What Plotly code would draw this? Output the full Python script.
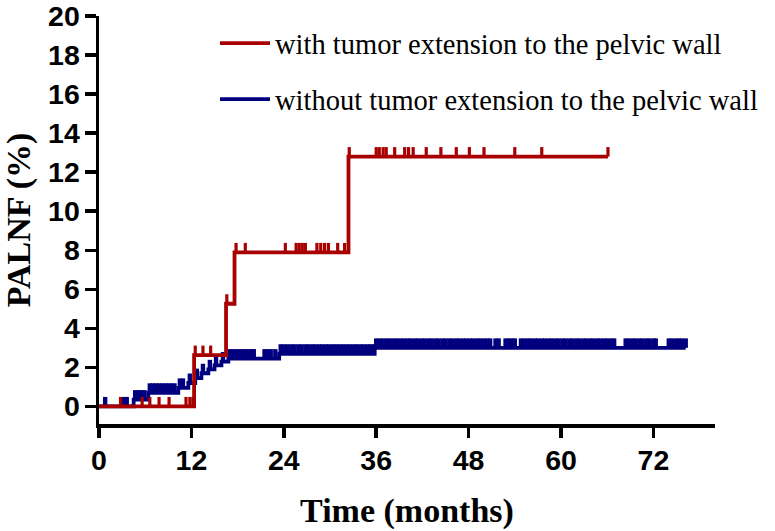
import numpy as np
import plotly.graph_objects as go

# ---------------- data ----------------
x_tick_months = [0, 12, 24, 36, 48, 60, 72]
y_tick_pct = [0, 2, 4, 6, 8, 10, 12, 14, 16, 18, 20]

red_name = "with tumor extension to the pelvic wall"
red_event_months = [12.35, 16.5, 17.6, 32.4]
red_event_pct = [2.63, 5.26, 7.89, 12.8]
red_end_month = 66.1
red_censor_months = [2.8, 5.6, 6.6, 7.8, 9.1, 11.3, 11.8, 12.2,
                     12.5, 13.5, 14.5,
                     16.6,
                     17.8, 19.0, 24.2, 25.6, 26.0, 26.4, 26.8, 28.3, 28.8, 29.3, 29.8, 31.0, 31.9,
                     32.5, 36.0, 36.4, 36.9, 37.3, 38.4, 39.7, 40.2, 40.8, 42.5, 44.4, 46.4,
                     48.1, 50.0, 54.0, 57.5, 66.1]

blue_name = "without tumor extension to the pelvic wall"
blue_event_months = [4.5, 6.4, 10.3, 11.6, 12.5, 13.3, 14.2, 15.0, 15.9, 16.8, 23.4, 35.8]
blue_event_pct = [0.35, 0.7, 0.95, 1.2, 1.45, 1.7, 1.9, 2.1, 2.3, 2.45, 2.7, 3.0]
blue_end_month = 76.2
blue_censor_months = [0.8, 3.2, 3.6,
                      4.7, 5.1, 5.5, 5.9,
                      6.6, 7.0, 7.4, 7.8, 8.2, 8.6, 9.0, 9.4, 9.8,
                      10.5, 10.9, 11.8, 12.7, 13.5, 14.4, 15.2, 16.1,
                      17.0, 17.4, 17.8, 18.2, 18.6, 19.0, 19.4, 19.8, 20.1, 21.5, 21.9, 22.3, 22.9,
                      23.6, 24.0, 24.5, 25.0, 25.4, 25.9, 26.3, 26.8, 27.2, 27.7, 28.1, 28.6, 29.0,
                      29.5, 29.9, 30.4, 30.8, 31.3, 31.7, 32.2, 32.6, 33.1, 33.5, 34.0, 34.4, 34.9,
                      35.3, 35.7,
                      36.0, 36.5, 36.9, 37.4, 37.8, 38.3, 38.7, 39.2, 39.6, 40.1, 40.5, 41.0, 41.4,
                      41.9, 42.3, 42.8, 43.2, 43.7, 44.1, 44.6, 45.0, 45.5, 45.9, 46.4, 46.8, 47.3,
                      47.7, 48.2, 48.6, 49.1, 49.5, 50.0, 50.4, 50.8, 51.5, 51.9, 52.8, 53.2, 53.6,
                      54.0, 54.8, 55.2, 55.7, 56.1, 56.6, 57.0, 57.5, 57.9, 58.4, 58.8, 59.3, 59.7,
                      60.2, 60.6, 61.1, 61.5, 62.0, 62.4, 62.9, 63.3, 63.8, 64.2, 64.7, 65.1, 65.6,
                      66.0, 66.5, 66.9, 68.4, 68.8, 69.3, 69.7, 70.2, 70.6, 71.1, 71.5, 72.0, 72.3,
                      74.0, 74.4, 74.9, 75.3, 75.7, 76.2]

x_range = [0, 80]
y_range = [-0.9, 20.001]

# ---------------- style ----------------
W, H = 775, 531
M = dict(l=99, r=60, t=16, b=107)
RED = "#A80000"
BLUE = "#00007F"
LW = 3.8
TICK_PX = 9.5

plot_h = H - M["t"] - M["b"]
plot_w = W - M["l"] - M["r"]
px_per_unit = plot_h / (y_range[1] - y_range[0])
tick_off = (TICK_PX / 2) / px_per_unit


def km_path(ev_t, ev_p, end_t):
    xs = [0] + list(ev_t) + [end_t]
    ys = [0] + list(ev_p) + [ev_p[-1]]
    return xs, ys


def level_at(ev_t, ev_p, times):
    idx = np.searchsorted(np.array(ev_t), np.array(times), side="right")
    return [0.0 if i == 0 else ev_p[i - 1] for i in idx]


fig = go.Figure()

for name, ev_t, ev_p, end_t, cens, col, rank, mw in [
    (blue_name, blue_event_months, blue_event_pct, blue_end_month, blue_censor_months, BLUE, 2, 4.4),
    (red_name, red_event_months, red_event_pct, red_end_month, red_censor_months, RED, 1, 3.2),
]:
    xs, ys = km_path(ev_t, ev_p, end_t)
    fig.add_trace(go.Scatter(
        x=xs, y=ys, mode="lines", line=dict(color=col, width=LW, shape="hv"),
        name=name, legendgroup=name, legendrank=rank, showlegend=True,
        hoverinfo="skip"))
    cy = [v + tick_off for v in level_at(ev_t, ev_p, cens)]
    fig.add_trace(go.Scatter(
        x=cens, y=cy, mode="markers",
        marker=dict(symbol="line-ns", size=TICK_PX / 1.4,
                    line=dict(color=col, width=mw)),
        legendgroup=name, showlegend=False, hoverinfo="skip"))

axis_common = dict(
    showgrid=False, zeroline=False, showline=True, linecolor="black",
    linewidth=3.5, ticks="outside", tickcolor="black", tickwidth=3.5,
    automargin=False, ticklabeloverflow="allow",
    tickfont=dict(family="Liberation Sans", size=28.5, color="black", weight="bold"),
)

legend_left_px = 215
fig.update_layout(
    template="none",
    width=W, height=H, margin=M,
    paper_bgcolor="white", plot_bgcolor="white",
    showlegend=True,
    legend=dict(
        x=(legend_left_px - M["l"]) / plot_w, y=0.995, xanchor="left", yanchor="top",
        xref="paper", yref="paper",
        font=dict(family="Liberation Serif", size=28.5, color="black"),
        bgcolor="rgba(0,0,0,0)", tracegroupgap=16, itemwidth=50,
    ),
    xaxis=dict(
        range=x_range, tickvals=x_tick_months, ticklen=10, ticklabelstandoff=-2,
        title=dict(text="<b>Time (months)</b>",
                   font=dict(family="Liberation Serif", size=34, color="black"),
                   standoff=24),
        **axis_common),
    yaxis=dict(
        range=y_range, tickvals=y_tick_pct, ticklen=11, ticklabelstandoff=-1,
        title=dict(text="<b>PALNF (%)</b>",
                   font=dict(family="Liberation Serif", size=34, color="black"),
                   standoff=12),
        **axis_common),
)

fig.write_html("out.html",
               config={"displayModeBar": False, "staticPlot": True},
               post_script="document.body.style.margin='0';document.body.style.overflow='hidden';")
